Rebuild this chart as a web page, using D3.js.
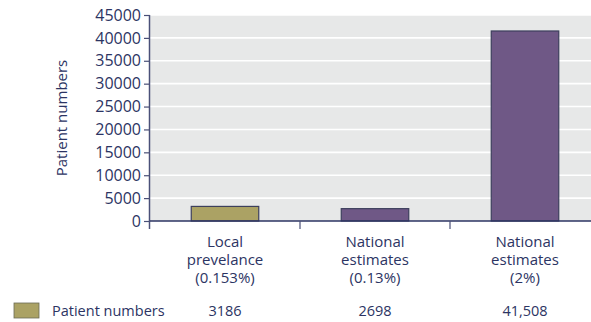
<!DOCTYPE html>
<html>
<head>
<meta charset="utf-8">
<script src="https://cdn.jsdelivr.net/npm/d3@7"></script>
<style>
  html, body { margin: 0; padding: 0; background: #fff; }
  svg { display: block; }
  text { font-family: "Open Sans", sans-serif; fill: #2c3463; }
</style>
</head>
<body>
<svg id="chart" width="591" height="322"></svg>
<script>
// Patient numbers by estimate source
const categories = ["Local\nprevelance\n(0.153%)", "National\nestimates\n(0.13%)", "National\nestimates\n(2%)"];
const values = [3186, 2698, 41508];
const valueLabels = ["3186", "2698", "41,508"];
const barColors = ["#aba264", "#6f5886", "#6f5886"];
const yTicks = [0, 5000, 10000, 15000, 20000, 25000, 30000, 35000, 40000, 45000];
const seriesName = "Patient numbers";
const yTitle = "Patient numbers";

const svg = d3.select("#chart");
const margin = { left: 150, top: 15, right: 0, bottom: 101 };
const plotW = 450, plotH = 206;

const x = d3.scaleBand().domain(d3.range(categories.length))
  .range([margin.left, margin.left + plotW]).paddingInner(0).paddingOuter(0);
const y = d3.scaleLinear().domain([0, 45000]).range([margin.top + plotH, margin.top]);

// Plot background
svg.append("rect")
  .attr("x", margin.left).attr("y", margin.top)
  .attr("width", plotW).attr("height", plotH)
  .attr("fill", "#e7e8e8");

// White gridlines
svg.append("g").selectAll("line").data(yTicks.filter(d => d > 0)).join("line")
  .attr("x1", margin.left).attr("x2", margin.left + plotW)
  .attr("y1", d => y(d)).attr("y2", d => y(d))
  .attr("stroke", "#ffffff").attr("stroke-width", 1.6);

// Bars
const bw = x.bandwidth() * 0.45;
svg.append("g").selectAll("rect").data(values).join("rect")
  .attr("x", (d, i) => x(i) + (x.bandwidth() - bw) / 2)
  .attr("y", d => y(d))
  .attr("width", bw)
  .attr("height", d => y(0) - y(d))
  .attr("fill", (d, i) => barColors[i])
  .attr("stroke", "#3d3f5c").attr("stroke-width", 1.2);

// Y axis
const yAxis = d3.axisLeft(y).tickValues(yTicks).tickSize(6).tickPadding(3).tickFormat(d3.format("d"));
const gy = svg.append("g").attr("transform", `translate(${margin.left},0)`).call(yAxis);
gy.select(".domain").attr("d", `M-0.5,${margin.top}V${margin.top + plotH + 8}`)
  .attr("stroke", "#4a5078").attr("stroke-width", 1.5);
gy.selectAll(".tick line").attr("stroke", "#4a5078").attr("stroke-width", 1.2);
gy.selectAll(".tick text").style("font-size", "16px").attr("fill", "#2c3463")
  .style("font-family", "'Open Sans', sans-serif");

// X baseline and category separators
svg.append("line")
  .attr("x1", margin.left).attr("x2", margin.left + plotW)
  .attr("y1", y(0)).attr("y2", y(0))
  .attr("stroke", "#2c3463").attr("stroke-width", 1.5);
svg.append("g").selectAll("line").data(d3.range(1, categories.length)).join("line")
  .attr("x1", d => x(d)).attr("x2", d => x(d))
  .attr("y1", y(0)).attr("y2", y(0) + 8)
  .attr("stroke", "#4a5078").attr("stroke-width", 1.2);

// Category labels, one text per line
const catG = svg.append("g");
categories.forEach((c, i) => {
  c.split("\n").forEach((line, j) => {
    catG.append("text")
      .attr("x", x(i) + x.bandwidth() / 2)
      .attr("y", 247 + j * 18)
      .attr("text-anchor", "middle")
      .style("font-size", "15px")
      .text(line);
  });
});

// Y axis title
svg.append("text")
  .attr("transform", `translate(67,118) rotate(-90)`)
  .attr("text-anchor", "middle")
  .style("font-size", "15px")
  .text(yTitle);

// Data table row: legend key + values
svg.append("rect")
  .attr("x", 14).attr("y", 303).attr("width", 25).attr("height", 15)
  .attr("fill", barColors[0]).attr("stroke", "#6b6b55").attr("stroke-width", 0.8);
svg.append("text")
  .attr("x", 52).attr("y", 316)
  .style("font-size", "14.5px")
  .text(seriesName);
svg.append("g").selectAll("text").data(valueLabels).join("text")
  .attr("x", (d, i) => x(i) + x.bandwidth() / 2)
  .attr("y", 316)
  .attr("text-anchor", "middle")
  .style("font-size", "14.5px")
  .text(d => d);
</script>
</body>
</html>
